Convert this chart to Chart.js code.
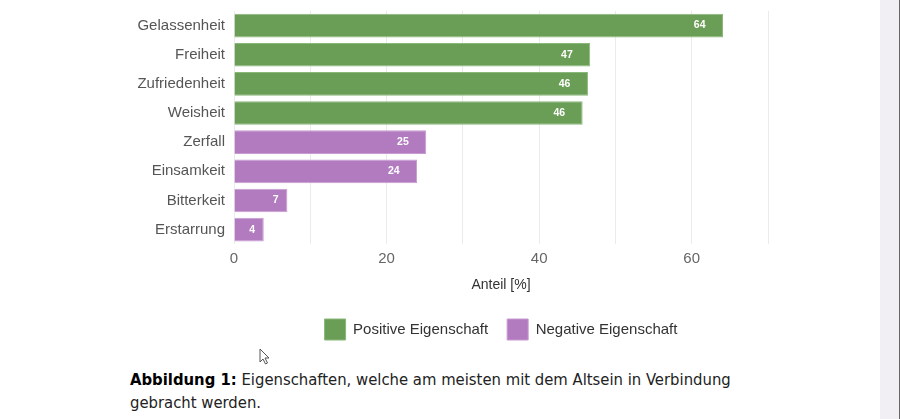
<!DOCTYPE html>
<html>
<head>
<meta charset="utf-8">
<script src="https://cdn.jsdelivr.net/npm/chart.js@4.4.0/dist/chart.umd.min.js"></script>
<style>
  body { margin: 0; background: #fff; width: 900px; height: 419px; overflow: hidden; position: relative; }
  #wrap { position: absolute; left: 0; top: 0; width: 900px; height: 350px; }
  #caption { position: absolute; left: 130px; top: 368px; font-family: "DejaVu Sans Condensed", "Liberation Sans Narrow", sans-serif; font-size: 16.5px; line-height: 23px; color: #222; width: 660px; }
  #caption b { color: #000; }
  #scroll { position: absolute; left: 880px; top: 0; width: 19px; height: 419px; background: #f1eff3; border-right: 1px solid #666; }
  #cursor { position: absolute; left: 259px; top: 348px; }
</style>
</head>
<body>
<div id="wrap"><canvas id="myChart"></canvas></div>
<div id="caption"><b>Abbildung 1:</b> Eigenschaften, welche am meisten mit dem Altsein in Verbindung gebracht werden.</div>
<div id="scroll"></div>
<svg id="cursor" width="12" height="18" viewBox="0 0 12 18"><path d="M1 1 L1 14 L4 11 L6.5 16 L8.5 15 L6 10 L10 10 Z" fill="#fff" stroke="#555" stroke-width="1"/></svg>
<script>
const labels = ['Gelassenheit', 'Freiheit', 'Zufriedenheit', 'Weisheit', 'Zerfall', 'Einsamkeit', 'Bitterkeit', 'Erstarrung'];
const positiveValues = [64.1, 46.7, 46.4, 45.7, null, null, null, null];
const negativeValues = [null, null, null, null, 25.2, 24.0, 7.0, 3.9];
const seriesNames = ['Positive Eigenschaft', 'Negative Eigenschaft'];

const green = '#6a9d55';
const purple = '#b27bbf';

// white value labels near the end of each bar
const barLabels = {
  id: 'barLabels',
  afterDatasetsDraw(chart) {
    const ctx = chart.ctx;
    ctx.save();
    ctx.font = 'bold 10.5px "Liberation Sans", Arial, sans-serif';
    ctx.fillStyle = '#ffffff';
    ctx.textAlign = 'center';
    ctx.textBaseline = 'middle';
    chart.data.datasets.forEach((ds, i) => {
      chart.getDatasetMeta(i).data.forEach((bar, j) => {
        const v = ds.data[j];
        if (v == null) return;
        const txt = String(Math.round(v));
        const w = ctx.measureText(txt).width;
        ctx.fillText(txt, bar.x - 2 * w, bar.y);
      });
    });
    ctx.restore();
  }
};

const datas = {
  labels: labels,
  datasets: [
    { label: seriesNames[0], data: positiveValues, backgroundColor: green, borderColor: '#8ab77a', borderWidth: 1, grouped: false },
    { label: seriesNames[1], data: negativeValues, backgroundColor: purple, borderColor: '#c89ad2', borderWidth: 1, grouped: false }
  ]
};

const config = {
  type: 'bar',
  data: datas,
  plugins: [barLabels],
  options: {
    indexAxis: 'y',
    responsive: true,
    maintainAspectRatio: false,
    animation: false,
    layout: { padding: { left: 0, right: 132, top: 11, bottom: 0 } },
    datasets: { bar: { categoryPercentage: 0.9, barPercentage: 0.9 } },
    scales: {
      x: {
        min: 0,
        max: 70,
        grid: { color: '#ebebeb', drawTicks: false },
        border: { display: false },
        ticks: {
          stepSize: 10,
          padding: 6,
          color: '#666',
          font: { family: '"Liberation Sans", Arial, sans-serif', size: 15 },
          callback: (v) => (v % 20 === 0 ? v : '')
        },
        title: {
          display: true,
          text: 'Anteil [%]',
          color: '#333',
          padding: { top: 3, bottom: 6 },
          font: { family: '"Liberation Sans", Arial, sans-serif', size: 14 }
        }
      },
      y: {
        grid: { display: false, drawTicks: false },
        border: { display: false },
        ticks: {
          padding: 9,
          color: '#555',
          font: { family: '"Liberation Sans", Arial, sans-serif', size: 15 }
        },
        afterFit: (scale) => {
          scale.width = 234;
          scale.paddingTop = 0;
          scale.paddingBottom = 0;
        }
      }
    },
    plugins: {
      legend: {
        position: 'bottom',
        fullSize: false,
        labels: {
          boxWidth: 21,
          boxHeight: 21,
          padding: 19,
          color: '#333',
          font: { family: '"Liberation Sans", Arial, sans-serif', size: 15 }
        }
      },
      tooltip: { enabled: false }
    }
  }
};

new Chart(document.getElementById('myChart'), config);
</script>
</body>
</html>
